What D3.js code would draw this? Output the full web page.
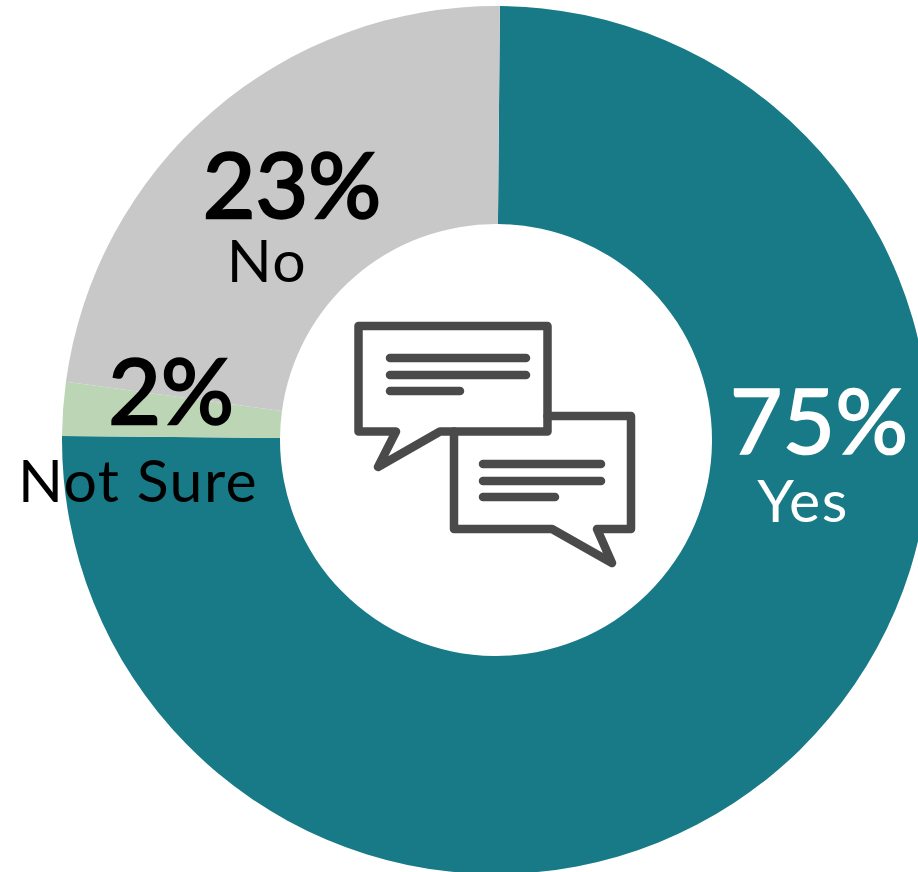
<!DOCTYPE html>
<html>
<head>
<meta charset="utf-8">
<script src="https://cdn.jsdelivr.net/npm/d3@7"></script>
<style>
html, body { margin: 0; padding: 0; background: #fff; }
svg { display: block; }
text { font-family: Lato, sans-serif; text-anchor: middle; }
</style>
</head>
<body>
<div id="chart-area"></div>
<script>
var categories = ["Yes", "Not Sure", "No"];
var values = [75, 2, 23];
var colors = ["#187a87", "#bbd5b5", "#c8c8c8"];
var textColors = ["#ffffff", "#000000", "#000000"];

var width = 918, height = 872;
var cx = 496, cy = 440, outer = 434, inner = 216;
var tilt = 0.009; // the whole ring sits slightly rotated clockwise

var svg = d3.select("#chart-area").append("svg")
  .attr("width", width)
  .attr("height", height);

var g = svg.append("g").attr("transform", "translate(" + cx + "," + cy + ")");

var pie = d3.pie().sort(null).value(function(d) { return d; })
  .startAngle(tilt).endAngle(2 * Math.PI + tilt);
var arc = d3.arc().innerRadius(inner).outerRadius(outer);

g.selectAll("path.slice")
  .data(pie(values))
  .enter().append("path")
  .attr("class", "slice")
  .attr("d", arc)
  .attr("fill", function(d, i) { return colors[i]; });

// labels
var pctPos = [[819, 454], [171, 424], [292, 218]];
var namePos = [[803, 522], [138, 502], [267, 282]];
var pctStroke = [1.6, 2.4, 2.4];

categories.forEach(function(c, i) {
  svg.append("text")
    .attr("x", pctPos[i][0]).attr("y", pctPos[i][1])
    .attr("font-size", 91)
    .attr("fill", textColors[i])
    .attr("stroke", textColors[i])
    .attr("stroke-width", pctStroke[i])
    .text(values[i] + "%");
  svg.append("text")
    .attr("x", namePos[i][0]).attr("y", namePos[i][1])
    .attr("font-size", 59)
    .attr("letter-spacing", 1.4)
    .attr("fill", textColors[i])
    .text(c);
});

// speech bubbles icon
var icon = svg.append("g")
  .attr("fill", "none")
  .attr("stroke", "#4a4a4a")
  .attr("stroke-width", 8.5)
  .attr("stroke-linejoin", "round")
  .attr("stroke-linecap", "round");

icon.append("path").attr("d", "M358.5 326H547.5V431.5H440L378 467L396 431.5H358.5Z");
icon.append("path").attr("d", "M547.5 416H631V529H597L612 563L552 529H454V431.5");

[[390, 358, 526], [390, 375, 526], [390, 391, 460], [483, 464, 601], [483, 481, 601], [483, 497, 555]].forEach(function(l) {
  icon.append("line")
    .attr("x1", l[0]).attr("y1", l[1])
    .attr("x2", l[2]).attr("y2", l[1]);
});
</script>
</body>
</html>
